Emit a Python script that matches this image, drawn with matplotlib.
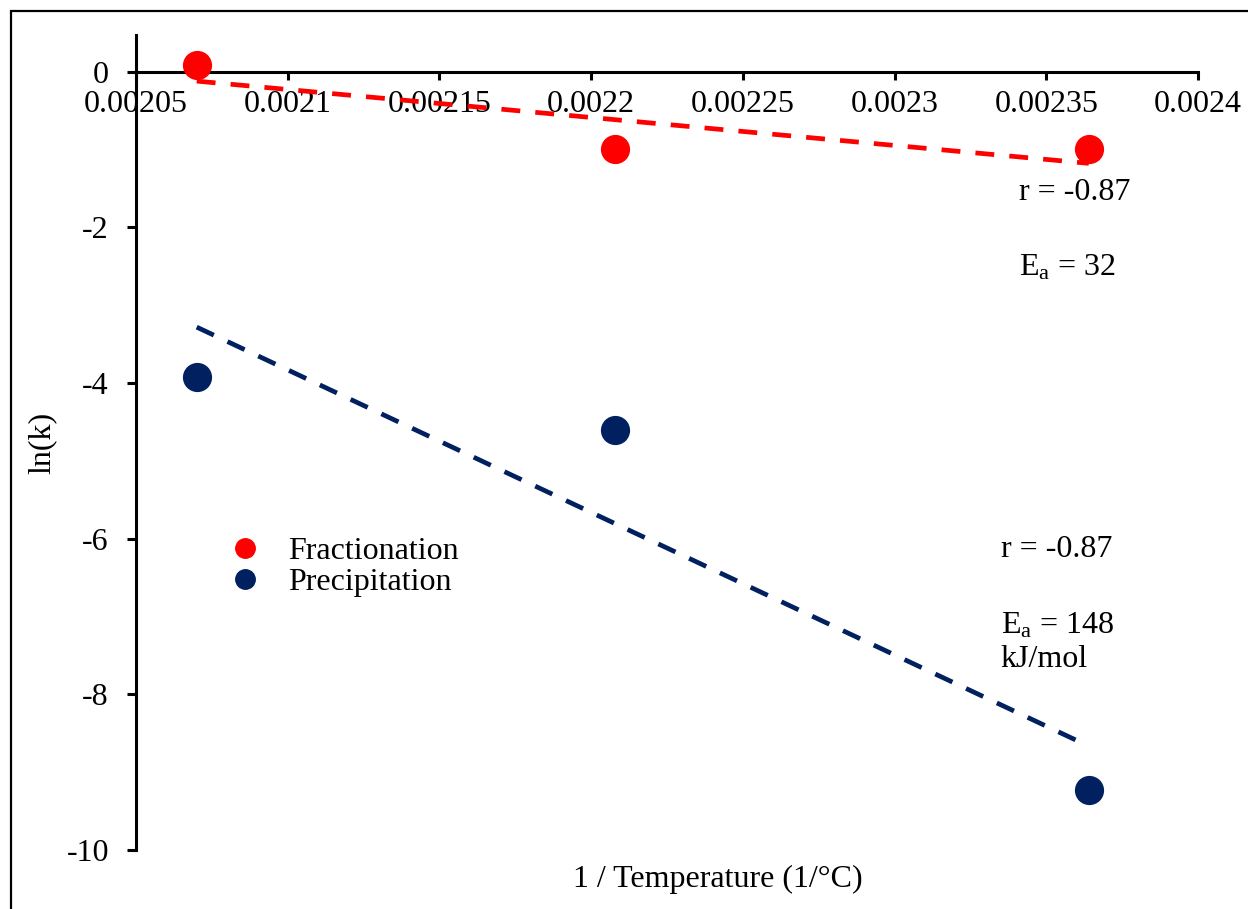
import matplotlib

matplotlib.use("Agg")
import matplotlib.pyplot as plt
import numpy as np
from matplotlib.patches import Rectangle

# inverse temperature (as plotted) and ln(k) for each process
INV_T = [0.002070, 0.002208, 0.002364]
LNK_FRACTIONATION = [0.08, -1.00, -1.00]
LNK_PRECIPITATION = [-3.92, -4.61, -9.23]

X_TICKS = [0.00205, 0.0021, 0.00215, 0.0022, 0.00225, 0.0023, 0.00235, 0.0024]
Y_TICKS = [0, -2, -4, -6, -8, -10]

RED = "#FF0000"
NAVY = "#002060"

plt.rcParams.update(
    {
        "font.family": ["Liberation Serif", "DejaVu Serif"],
        "font.size": 23,
        "mathtext.default": "regular",
        "axes.unicode_minus": False,
    }
)

fig = plt.figure(figsize=(12.48, 9.09), dpi=100)
ax = fig.add_axes([0.109, 0.065, 0.851, 0.8965])

x = np.asarray(INV_T)
for y, color, label in [
    (LNK_FRACTIONATION, RED, "Fractionation"),
    (LNK_PRECIPITATION, NAVY, "Precipitation"),
]:
    ax.plot(x, y, "o", color=color, markersize=20, label=label, zorder=3, clip_on=False)
    slope, icpt = np.polyfit(x, y, 1)
    ax.plot(x[[0, -1]], slope * x[[0, -1]] + icpt, color=color, linewidth=3.4,
            dashes=(4, 3.2), zorder=2)

ax.set_xlim(0.00205, 0.0024)
ax.set_ylim(-10, 0.47)
ax.set_xticks(X_TICKS, [f"{v:g}" for v in X_TICKS], fontsize=24.5)
ax.set_yticks(Y_TICKS, [f"{v:g}" for v in Y_TICKS])

for side in ("top", "right"):
    ax.spines[side].set_visible(False)
ax.spines["bottom"].set_position(("data", 0))
ax.spines["bottom"].set_linewidth(2.2)
ax.spines["left"].set_linewidth(2.2)
ax.tick_params(axis="x", direction="out", length=6, width=2.2, pad=7.5)
ax.tick_params(axis="y", direction="out", length=6.5, width=2.2, pad=13)

ax.set_xlabel("1 / Temperature (1/°C)")
ax.xaxis.set_label_coords(0.548, -0.018)
ax.set_ylabel("ln(k)")
ax.yaxis.set_label_coords(-0.075, 0.5)

ax.text(0.002341, -1.555, "r = -0.87", ha="left", va="center")
ax.text(0.002341, -2.52, "E$_{a}$ = 32", ha="left", va="center")
ax.text(0.002335, -6.14, "r = -0.87", ha="left", va="center")
ax.text(0.002335, -7.34, "E$_{a}$ = 148\nkJ/mol", ha="left", va="center",
        linespacing=1.2)

ax.legend(
    loc="center left",
    bbox_to_anchor=(0.0605, 0.347),
    frameon=False,
    markerscale=0.7,
    handletextpad=0.35,
    labelspacing=0.05,
    borderaxespad=0,
)

fig.patches.append(
    Rectangle((0.0088, -0.05), 1.2, 1.038, transform=fig.transFigure,
              fill=False, edgecolor="black", linewidth=1.6)
)

fig.savefig("out.png", dpi=100)
